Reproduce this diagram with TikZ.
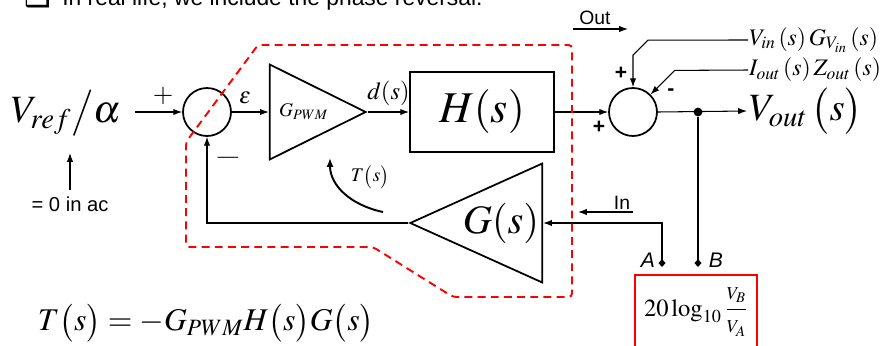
\documentclass[tikz,border=0pt]{standalone}
\usepackage{mathptmx}
\usepackage[no-math]{fontspec}
\setmainfont{Liberation Serif}
\newfontfamily\arialfont{Liberation Sans}
\newfontfamily\bulletfont{DejaVu Sans}
\usetikzlibrary{shapes,arrows.meta,positioning,calc}
\definecolor{loopred}{RGB}{255,0,0}
\newcommand{\fs}[1]{\fontsize{#1}{1.2\dimexpr#1pt\relax}\selectfont}

\begin{document}
\begin{tikzpicture}[
  x=0.02cm, y=-0.02cm,
  sig/.style={line width=0.6pt, -{Latex[length=5pt,width=3.6pt]}},
  wire/.style={line width=0.6pt},
  sumnode/.style={circle, draw, line width=1pt, minimum size=0.96cm, inner sep=0pt},
  ampl/.style={isosceles triangle, isosceles triangle stretches, draw,
    line width=1pt, inner sep=0pt},
  block/.style={draw, line width=1.1pt, minimum width=2.88cm,
    minimum height=1.6cm, inner sep=0pt},
  sans/.style={font=\arialfont\fs{#1}},
  tap/.style={circle, fill, inner sep=0pt, minimum size=5pt}
]
\useasboundingbox (0,0) rectangle (889,345);
\clip (0,0) rectangle (889,345);

% Slide line, cut by the top edge
\node[anchor=base west, font=\bulletfont\fs{17}, inner sep=0pt] (bullet) at (24,6) {❑};
\node[anchor=base west, sans=13, inner sep=0pt] (title) at (62,5)
{In real life, we include the phase reversal.};

% Reference input
\node[font=\fs{22}] (vref) at (66,113) {$V_{ref}\big/\alpha$};
\coordinate (refin) at (135,112);
\node[sans=11.5] (ac) at (70,204) {= 0 in ac};
\coordinate (acend) at (70,153);
\draw[sig] (ac.north) -- (acend);

% Error summer
\node[sumnode] (sum1) at (207,112) {};
\draw[sig] (refin) -- (sum1.west);
\node[font=\fs{15}] (plus1) at (163,96) {$+$};
\node[font=\fs{11.5}] (minus1) at (228,160) {---};
\node[font=\fs{13}] (eps) at (245,98) {$\varepsilon$};

% Modulator and power stage
\node[ampl, minimum width=1.9cm, minimum height=1.92cm, anchor=apex,
  font=\fs{11}] (gpwm) at (368,112) {$G_{PWM}$};
\draw[sig] (sum1.east) -- (gpwm.lower side);
\node[block, font=\fs{25}] (hs) at (482,112) {$H(s)$};
\draw[sig] (gpwm.apex) -- node[above, font=\fs{14}] {$d(s)$} (hs.west);

% Output summer
\node[sumnode] (sum2) at (633,112) {};
\draw[sig] (hs.east) -- (sum2.west);
\node[sans=12] (plus2) at (599,127) {\textbf{+}};
\node[sans=12] (plus3) at (621,73) {\textbf{+}};
\node[sans=12] (minus2) at (671,92) {\textbf{-}};

\node[anchor=west, inner sep=0.5pt, font=\fs{13.5}] (vin) at (748,40)
{$V_{in}\,(s)\,G_{V_{in}}\,(s)$};
\node[anchor=west, inner sep=0.5pt, font=\fs{13.5}] (iout) at (748,70)
{$I_{out}\,(s)\,Z_{out}\,(s)$};
\draw[sig] (vin.west) -- ($(sum2.north)+(15,-47)$)
  -- ($(sum2.north)+(0,-32)$) -- (sum2.north);
\draw[sig] (iout.west) -- ($(sum2.north east)+(24,-24)$) -- (sum2.north east);

\node[tap] (tapB) at (698,112) {};
\node[anchor=west, inner sep=1pt, font=\fs{22}] (vout) at (747,111)
{$V_{out}\,\bigl(s\bigr)$};
\draw[sig] (sum2.east) -- (vout.west);

\node[sans=11] (outlbl) at (595,18) {Out};
\coordinate (outA) at (573,29);
\coordinate (outB) at (628,29);
\draw[sig] (outA) -- (outB);

% Feedback path
\node[ampl, shape border rotate=180, minimum width=2.38cm, minimum height=2.64cm,
  anchor=apex, font=\fs{23}] (gs) at (408,223) {$G(s)$};
\coordinate (ptA) at (662,267);
\coordinate (ptB) at (698,267);
\draw[wire, {Diamond[length=4.5pt,width=4pt]}-{Latex[length=5pt,width=3.6pt]}]
  (ptA) |- (gs.lower side);
\draw[wire, -{Diamond[length=4.5pt,width=4pt]}] (tapB) -- (ptB);
\draw[sig] (gs.apex) -| (sum1.south);
\node[font=\arialfont\itshape\fs{12}] (lblA) at (648,260) {A};
\node[font=\arialfont\itshape\fs{12}] (lblB) at (716,260) {B};

\node[sans=11] (inlbl) at (622,203) {In};
\coordinate (inA) at (633,212);
\coordinate (inB) at (578,212);
\draw[sig] (inA) -- (inB);

% Loop gain arrow
\coordinate (tA) at (383,212);
\coordinate (tB) at (330,158);
\draw[line width=1.1pt, -{Latex[length=5pt,width=4pt]}] (tA) .. controls (350,205) and (330,185) .. (tB);
\node[font=\fs{11}] (tlbl) at (370,177) {$T\bigl(s\bigr)$};

% Loop boundary
\draw[loopred, line width=1.1pt, dash pattern=on 4.5pt off 3pt, rounded corners=2pt]
  (258,45) -- (572,45) -- (572,297) -- (453,297) -- (373,247)
  -- (186,247) -- (186,142) -- cycle;

% Analyzer
\node[draw=loopred, line width=0.8pt, anchor=base, inner sep=0pt,
  minimum width=2.44cm, text height=0.82cm, text depth=1.2cm, font=\fs{14}] (meas) at (696,316)
{$\displaystyle 20\log_{10}\frac{\scriptstyle V_B}{\scriptstyle V_A}$};

% Loop gain expression
\node[font=\fs{18}] (teq) at (206,323)
{$T\bigl(s\bigr)=-G_{PWM}H\bigl(s\bigr)G\bigl(s\bigr)$};

\end{tikzpicture}
\end{document}
